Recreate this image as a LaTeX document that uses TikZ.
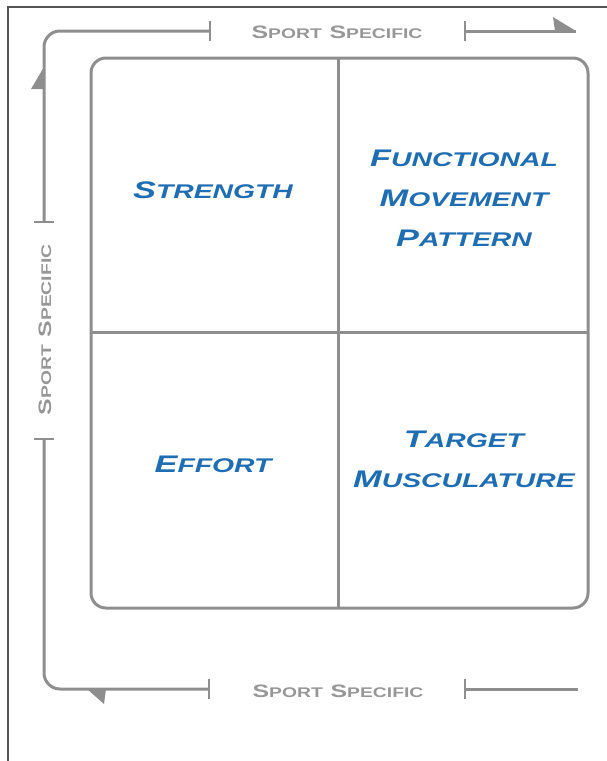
\documentclass[tikz,border=0pt]{standalone}
\usepackage{fontspec}
\newfontfamily\widefont{Liberation Sans}[FakeStretch=1.38]
\newfontfamily\quadfont{Liberation Sans}[FakeStretch=1.43]
\definecolor{quadblue}{HTML}{1F6DB2}
\definecolor{sidegray}{HTML}{979797}
\definecolor{linegray}{HTML}{8E8E8E}
\definecolor{framegray}{HTML}{555555}
% fake small caps: large initial, smaller capitals after it
\newcommand\bigsc[2]{{\fontsize{24}{40}\selectfont #1}{\fontsize{19.8}{40}\selectfont #2}}
\newcommand\smallsc[2]{{\fontsize{18}{20}\selectfont #1}{\fontsize{14}{20}\selectfont #2}}
\begin{document}
\begin{tikzpicture}[x=1pt,y=-1pt,
  frameline/.style={draw=framegray,line width=1.6pt},
  gridline/.style={draw=linegray,line width=3pt},
  flow/.style={draw=linegray,line width=3pt,rounded corners=16pt},
  tickmark/.style={draw=linegray,line width=2.6pt},
  harpoon/.style={fill=linegray},
  quadlabel/.style={text=quadblue,font=\quadfont\bfseries\itshape\fontsize{19.8}{40}\selectfont,align=center,inner sep=0pt},
  sidelabel/.style={text=sidegray,font=\widefont\bfseries,inner sep=0pt}]
\useasboundingbox (0,0) rectangle (607,761);

% outer frame (top and left edges)
\draw[frameline] (8,761) -- (8,7) -- (607,7);

% the four quadrants
\draw[gridline,rounded corners=15pt] (91,58) rectangle (588,608);
\draw[gridline] (338,58) -- (338,608);
\draw[gridline] (91,332) -- (588,332);

\node[quadlabel] (strength) at (213,190) {\bigsc{S}{TRENGTH}};
\node[quadlabel] (functional) at (464,198) {\bigsc{F}{UNCTIONAL}\\\bigsc{M}{OVEMENT}\\\bigsc{P}{ATTERN}};
\node[quadlabel] (effort) at (213,464) {\bigsc{E}{FFORT}};
\node[quadlabel] (target) at (464,459) {\bigsc{T}{ARGET}\\\bigsc{M}{USCULATURE}};

% side labels
\node[sidelabel] (toplabel) at (337,32) {\smallsc{S}{PORT}\hspace{4pt} \smallsc{S}{PECIFIC}};
\node[sidelabel] (bottomlabel) at (338,691) {\smallsc{S}{PORT}\hspace{4pt} \smallsc{S}{PECIFIC}};
\node[sidelabel,rotate=90] (leftlabel) at (45,330) {\smallsc{S}{PORT}\hspace{4pt} \smallsc{S}{PECIFIC}};

% tick positions bracketing the side labels
\coordinate (topA) at (210,31);
\coordinate (topB) at (465,31);
\coordinate (topEnd) at (576,31);
\coordinate (leftA) at (44,222);
\coordinate (leftB) at (44,439);
\coordinate (botA) at (209,689);
\coordinate (botB) at (465,689);
\coordinate (botEnd) at (578,689);
\coordinate (cornerTL) at (44,31);
\coordinate (cornerBL) at (44,689);

% running lines
\draw[flow] (leftA) -- (cornerTL) -- (topA);
\draw[flow] (topB) -- (topEnd);
\draw[flow] (leftB) -- (cornerBL) -- (botA);
\draw[flow] (botB) -- (botEnd);

% ticks
\foreach \t in {topA,topB,botA,botB}
  \draw[tickmark] ([yshift=-10pt]\t) -- ([yshift=10pt]\t);
\foreach \t in {leftA,leftB}
  \draw[tickmark] ([xshift=-10pt]\t) -- ([xshift=10pt]\t);

% half arrowheads
\fill[harpoon] (topEnd) -- (555,31) -- (553,17) -- cycle;
\fill[harpoon] (44,67) -- (44,89) -- (31,89) -- cycle;
\fill[harpoon] (87,689) -- (106,689) -- (104,704) -- cycle;
\end{tikzpicture}
\end{document}
